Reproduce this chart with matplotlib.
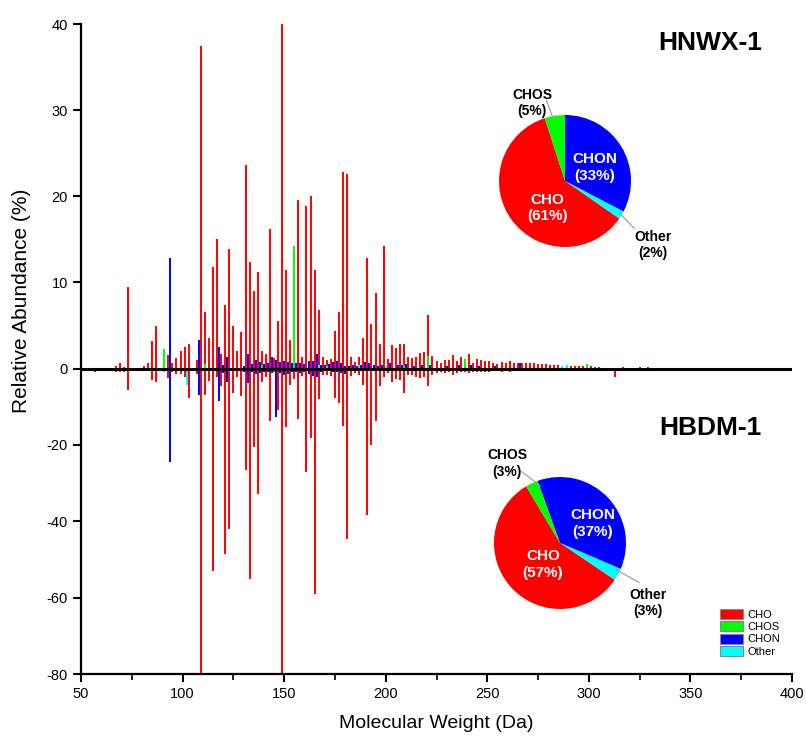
import numpy as np
import matplotlib
matplotlib.use("Agg")
import matplotlib.pyplot as plt
from matplotlib.patches import Patch

plt.rcParams['font.family'] = ['Liberation Sans', 'DejaVu Sans']

# ---- data (relative abundance, %), HNWX-1 up, HBDM-1 down ----
cho_mw = [57, 67, 69, 71, 73, 81, 83, 85, 87, 93,
          95, 97, 99, 101, 103, 107, 109, 111, 113, 115,
          117, 119, 121, 123, 125, 127, 129, 131, 133, 135,
          137, 139, 141, 143, 145, 147, 149, 151, 153, 155,
          157, 159, 161, 163, 165, 167, 169, 171, 173, 175,
          177, 179, 181, 183, 185, 187, 189, 191, 193, 195,
          197, 199, 201, 203, 205, 207, 209, 211, 213, 215,
          217, 219, 221, 223, 225, 227, 229, 231, 233, 235,
          237, 239, 241, 243, 245, 247, 249, 251, 253, 255,
          257, 259, 261, 263, 265, 267, 269, 271, 273, 275,
          277, 279, 281, 283, 285, 287, 289, 291, 293, 295,
          297, 299, 301, 303, 305, 313, 317, 325, 329, 357]
cho_hnwx = [0.0, 0.3, 0.6, 0.2, 9.45, 0.3, 0.6, 3.25, 4.9, 1.55,
            0.7, 1.2, 2.1, 2.5, 2.9, 1.0, 37.5, 6.6, 3.55, 11.8,
            15.07, 1.7, 7.36, 13.9, 4.95, 2.05, 4.27, 23.6, 12.4, 9.06,
            11.27, 2.0, 1.7, 16.26, 1.2, 5.58, 40.0, 11.5, 3.3, 0.5,
            19.6, 1.4, 18.9, 19.98, 11.4, 6.8, 1.3, 1.0, 1.1, 4.35,
            6.6, 22.85, 22.6, 1.4, 0.8, 1.3, 3.6, 12.86, 5.15, 8.8,
            2.9, 14.25, 1.1, 2.8, 2.4, 2.9, 2.9, 1.4, 1.2, 1.3,
            1.8, 1.9, 6.24, 1.5, 0.9, 0.7, 1.0, 1.0, 1.6, 0.9,
            1.3, 0.8, 1.7, 0.6, 1.1, 1.0, 0.9, 0.9, 0.7, 0.5,
            0.8, 0.6, 0.9, 0.6, 0.6, 0.6, 0.6, 0.6, 0.6, 0.5,
            0.5, 0.5, 0.4, 0.4, 0.4, 0.3, 0.35, 0.3, 0.3, 0.3,
            0.3, 0.25, 0.25, 0.2, 0.15, 0.1, 0.15, 0.2, 0.15, 0.1]
cho_hbdm = [0.8, 0.8, 1.0, 0.8, 5.6, 0.3, 0.3, 3.0, 3.6, 2.5,
            0.8, 1.4, 1.4, 2.1, 7.8, 1.4, 90.0, 6.9, 3.3, 52.9,
            2.1, 4.6, 48.5, 42.0, 6.3, 2.3, 7.2, 26.6, 55.0, 20.6,
            32.8, 3.4, 2.3, 13.6, 1.0, 10.8, 90.0, 15.4, 4.3, 2.6,
            13.1, 2.0, 27.2, 18.3, 59.0, 7.9, 1.7, 1.7, 1.8, 7.6,
            8.9, 15.0, 44.7, 1.8, 1.2, 1.7, 4.3, 38.3, 20.0, 13.7,
            4.6, 2.1, 1.2, 3.6, 2.8, 3.0, 6.3, 1.7, 1.7, 2.1,
            2.5, 2.1, 4.6, 1.7, 1.2, 1.0, 1.2, 1.0, 1.7, 1.2,
            1.0, 1.0, 1.2, 1.0, 1.0, 0.9, 0.9, 0.8, 0.7, 0.6,
            0.8, 0.7, 0.8, 0.7, 0.7, 0.6, 0.6, 0.6, 0.6, 0.5,
            0.5, 0.5, 0.4, 0.4, 0.4, 0.4, 0.3, 0.3, 0.3, 0.3,
            0.3, 0.2, 0.2, 0.2, 0.2, 2.3, 0.1, 0.1, 0.1, 0.0]

chon_mw = [94, 108, 118, 120, 122, 130, 132, 134, 136, 138,
           140, 142, 144, 146, 148, 150, 152, 154, 156, 158,
           160, 162, 164, 166, 168, 170, 172, 174, 176, 178,
           180, 182, 184, 186, 188, 190, 192, 194, 196, 198,
           202, 206, 208, 210, 214, 218, 222, 230, 236, 242,
           246, 254, 266]
chon_hnwx = [12.8, 3.3, 2.55, 0.4, 1.4, 0.3, 1.7, 0.5, 1.0, 0.8,
             0.5, 0.6, 1.4, 1.0, 0.8, 0.9, 0.8, 0.7, 0.6, 0.6,
             0.5, 0.9, 0.9, 1.7, 0.4, 0.4, 0.5, 0.8, 0.9, 0.6,
             0.3, 0.3, 0.4, 0.3, 0.4, 0.8, 0.6, 0.4, 0.3, 0.4,
             0.6, 0.4, 0.4, 0.5, 0.3, 0.4, 0.4, 0.3, 0.4, 0.4,
             0.3, 0.3, 0.6]
chon_hbdm = [24.5, 6.9, 8.5, 1.2, 3.4, 0.8, 3.7, 0.8, 1.4, 1.2,
             1.0, 1.0, 1.2, 12.6, 1.2, 1.7, 1.4, 1.0, 1.0, 1.2,
             0.8, 1.4, 1.9, 2.1, 0.8, 0.6, 0.6, 0.8, 0.8, 1.2,
             1.4, 0.6, 0.6, 0.5, 0.6, 0.7, 0.6, 0.5, 0.4, 0.5,
             0.6, 0.4, 0.4, 0.5, 0.4, 0.4, 0.4, 0.3, 0.4, 0.3,
             0.3, 0.3, 0.3]

chos_mw = [91, 111, 139, 155, 209, 221, 239, 299]
chos_hnwx = [2.25, 0.5, 0.4, 14.2, 0.4, 1.5, 1.1, 0.5]
chos_hbdm = [0.0, 0.3, 0.3, 0.3, 0.2, 0.3, 0.3, 0.1]

other_mw = [91, 102, 167, 171, 187, 200, 287, 289]
other_hnwx = [0.0, 0.0, 0.4, 0.3, 0.4, 0.3, 0.3, 0.4]
other_hbdm = [0.8, 4.4, 0.5, 0.4, 0.6, 0.4, 0.2, 0.2]

classes = ['CHO', 'CHOS', 'CHON', 'Other']
colors = {'CHO': '#FF0000', 'CHOS': '#00FF00', 'CHON': '#0000FF', 'Other': '#00FFFF'}

pie_hnwx = [33, 2, 61, 5]   # CHON, Other, CHO, CHOS
pie_hbdm = [37, 3, 57, 3]
pie_order = ['CHON', 'Other', 'CHO', 'CHOS']

NEG = 0.443  # compression of negative half of y axis


def fwd(y):
    y = np.asarray(y, dtype=float)
    return np.where(y < 0, y * NEG, y)


def inv(y):
    y = np.asarray(y, dtype=float)
    return np.where(y < 0, y / NEG, y)


W, H = 806, 738
fig = plt.figure(figsize=(W / 100, H / 100), dpi=100)
ax = fig.add_axes([81 / W, 1 - 674 / H, 711 / W, 650 / H])
ax.set_yscale('function', functions=(fwd, inv))

series = [('CHO', cho_mw, cho_hnwx, cho_hbdm),
          ('CHOS', chos_mw, chos_hnwx, chos_hbdm),
          ('CHON', chon_mw, chon_hnwx, chon_hbdm),
          ('Other', other_mw, other_hnwx, other_hbdm)]
for name, mw, up, down in series:
    mw = np.array(mw)
    ax.vlines(mw, 0, np.array(up), colors=colors[name], lw=1.4)
    ax.vlines(mw, 0, -np.array(down), colors=colors[name], lw=1.4)

ax.axhline(0, color='black', lw=2.2, zorder=5)
ax.set_xlim(50, 400)
ax.set_ylim(-80, 40)
ax.set_xticks(np.arange(50, 401, 50))
ax.set_xticks(np.arange(75, 400, 50), minor=True)
ax.set_yticks([-80, -60, -40, -20, 0, 10, 20, 30, 40])
ax.set_yticklabels(['-80', '-60', '-40', '-20', '0', '10', '20', '30', '40'])
ax.yaxis.set_minor_locator(matplotlib.ticker.NullLocator())
ax.spines['top'].set_visible(False)
ax.spines['right'].set_visible(False)
for s in ('left', 'bottom'):
    ax.spines[s].set_linewidth(1.6)
ax.tick_params(which='major', length=6, width=1.5, labelsize=10.5)
ax.tick_params(which='minor', length=4, width=1.2)
ax.set_xlabel('Molecular Weight (Da)', fontsize=14, labelpad=10)
ax.set_ylabel('Relative Abundance (%)', fontsize=15)
ax.yaxis.set_label_coords(-0.07, 0.574)

fig.text(710 / W, 1 - 43 / H, 'HNWX-1', ha='center', va='center',
         fontsize=19, fontweight='bold')
fig.text(710 / W, 1 - 428 / H, 'HBDM-1', ha='center', va='center',
         fontsize=19, fontweight='bold')


def draw_pie(cx, cy, values, start, texts):
    r = 66
    L = 1.9
    pax = fig.add_axes([(cx - r * L) / W, 1 - (cy + r * L) / H,
                        2 * r * L / W, 2 * r * L / H])
    pax.pie(values, colors=[colors[k] for k in pie_order], startangle=start,
            counterclock=False, radius=1, wedgeprops=dict(linewidth=0))
    pax.set_xlim(-L, L)
    pax.set_ylim(-L, L)
    pax.set_aspect('equal')
    pax.axis('off')
    for (tx, ty, s, c, fs, line) in texts:
        pax.text(tx, ty, s, ha='center', va='center', color=c,
                 fontsize=fs, fontweight='bold', linespacing=1.25)
        if line is not None:
            pax.plot(line[0], line[1], color='#999999', lw=0.8)


draw_pie(565, 181, pie_hnwx, 90, [
    (0.45, 0.21, 'CHON\n(33%)', 'white', 11, None),
    (-0.27, -0.41, 'CHO\n(61%)', 'white', 11, None),
    (-0.5, 1.18, 'CHOS\n(5%)', 'black', 10, ([-0.28, -0.18], [1.22, 0.95])),
    (1.33, -0.97, 'Other\n(2%)', 'black', 10, ([0.83, 1.05], [-0.49, -0.72])),
])
draw_pie(560, 543, pie_hbdm, 110, [
    (0.5, 0.3, 'CHON\n(37%)', 'white', 11, None),
    (-0.26, -0.33, 'CHO\n(57%)', 'white', 11, None),
    (-0.8, 1.21, 'CHOS\n(3%)', 'black', 10, ([-0.58, -0.3], [1.08, 0.87])),
    (1.33, -0.91, 'Other\n(3%)', 'black', 10, ([0.86, 1.2], [-0.41, -0.6])),
])

handles = [Patch(facecolor=colors[k], edgecolor='#888888', linewidth=0.8, label=k)
           for k in classes]
fig.legend(handles=handles, loc='upper left', bbox_to_anchor=(712 / W, 1 - 601 / H),
           frameon=False, fontsize=8, handlelength=2.1, handleheight=1.0,
           labelspacing=0.15, handletextpad=0.4, borderpad=0.2)

fig.savefig('out.png', dpi=100)
